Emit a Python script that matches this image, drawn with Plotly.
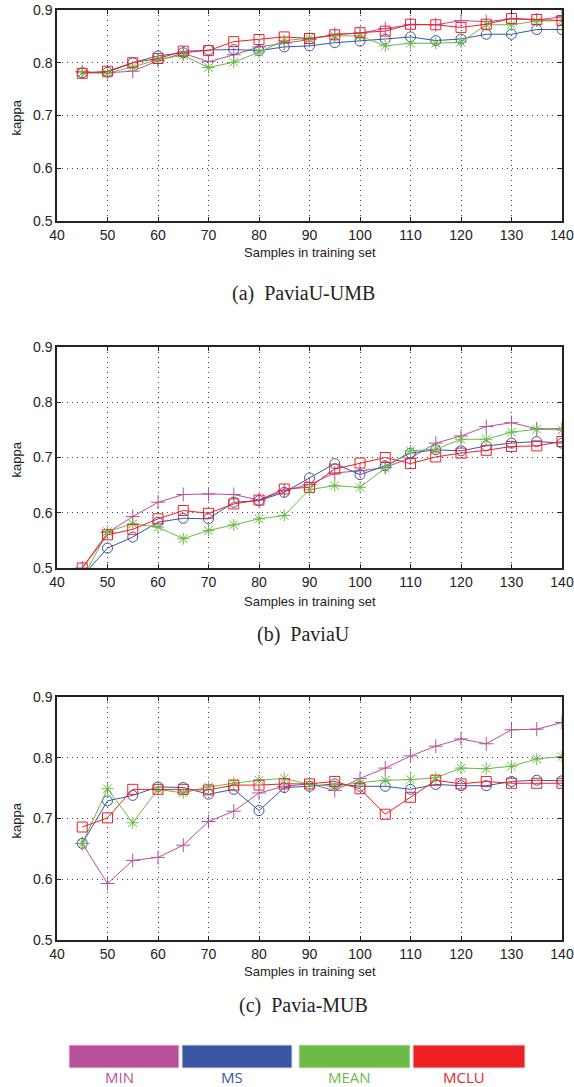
import plotly.graph_objects as go

samples = [45, 50, 55, 60, 65, 70, 75, 80, 85, 90, 95, 100, 105, 110, 115, 120, 125, 130, 135, 140]
methods = ["MIN", "MS", "MEAN", "MCLU"]
colors = {"MIN": "#b8509a", "MS": "#3a55a4", "MEAN": "#6bbb45", "MCLU": "#ef2024"}
symbols = {"MIN": "cross-thin-open", "MS": "circle-open", "MEAN": "asterisk-open", "MCLU": "square-open"}

# (a) PaviaU-UMB
a_min = [0.783, 0.781, 0.784, 0.804, 0.818, 0.802, 0.815, 0.830, 0.837, 0.844, 0.854, 0.856, 0.865, 0.872, 0.872, 0.880, 0.878, 0.883, 0.881, 0.887]
a_ms = [0.781, 0.782, 0.800, 0.813, 0.819, 0.824, 0.825, 0.823, 0.830, 0.832, 0.838, 0.841, 0.845, 0.849, 0.842, 0.845, 0.854, 0.854, 0.863, 0.863]
a_mean = [0.781, 0.780, 0.792, 0.806, 0.814, 0.791, 0.801, 0.820, 0.842, 0.847, 0.851, 0.851, 0.832, 0.837, 0.837, 0.839, 0.872, 0.872, 0.879, 0.880]
a_mclu = [0.780, 0.784, 0.800, 0.808, 0.822, 0.823, 0.840, 0.844, 0.849, 0.846, 0.853, 0.857, 0.860, 0.873, 0.872, 0.867, 0.873, 0.884, 0.882, 0.880]

# (b) PaviaU
b_min = [0.500, 0.564, 0.593, 0.619, 0.633, 0.634, 0.633, 0.623, 0.640, 0.651, 0.672, 0.676, 0.682, 0.699, 0.726, 0.739, 0.756, 0.763, 0.752, 0.752]
b_ms = [0.485, 0.536, 0.556, 0.583, 0.590, 0.589, 0.619, 0.622, 0.637, 0.663, 0.689, 0.669, 0.685, 0.708, 0.714, 0.712, 0.721, 0.726, 0.729, 0.726]
b_mean = [0.480, 0.566, 0.580, 0.574, 0.553, 0.568, 0.578, 0.589, 0.595, 0.642, 0.649, 0.646, 0.681, 0.712, 0.715, 0.733, 0.733, 0.746, 0.751, 0.750]
b_mclu = [0.500, 0.560, 0.570, 0.589, 0.604, 0.599, 0.616, 0.623, 0.643, 0.646, 0.679, 0.690, 0.700, 0.689, 0.701, 0.708, 0.713, 0.720, 0.721, 0.729]

# (c) Pavia-MUB
c_min = [0.659, 0.593, 0.631, 0.636, 0.656, 0.695, 0.712, 0.742, 0.753, 0.757, 0.746, 0.766, 0.783, 0.803, 0.819, 0.831, 0.823, 0.846, 0.847, 0.858]
c_ms = [0.659, 0.729, 0.738, 0.752, 0.751, 0.740, 0.748, 0.713, 0.751, 0.753, 0.757, 0.753, 0.753, 0.748, 0.756, 0.754, 0.754, 0.761, 0.763, 0.762]
c_mean = [0.659, 0.749, 0.693, 0.748, 0.742, 0.752, 0.758, 0.763, 0.766, 0.756, 0.753, 0.759, 0.763, 0.764, 0.767, 0.783, 0.782, 0.786, 0.798, 0.802]
c_mclu = [0.686, 0.701, 0.748, 0.748, 0.748, 0.747, 0.755, 0.755, 0.757, 0.757, 0.761, 0.749, 0.707, 0.735, 0.763, 0.757, 0.761, 0.758, 0.758, 0.758]

panels = [
    {"name": "(a)  PaviaU-UMB", "data": {"MIN": a_min, "MS": a_ms, "MEAN": a_mean, "MCLU": a_mclu}},
    {"name": "(b)  PaviaU", "data": {"MIN": b_min, "MS": b_ms, "MEAN": b_mean, "MCLU": b_mclu}},
    {"name": "(c)  Pavia-MUB", "data": {"MIN": c_min, "MS": c_ms, "MEAN": c_mean, "MCLU": c_mclu}},
]

x_ticks = [40, 50, 60, 70, 80, 90, 100, 110, 120, 130, 140]
y_ticks = [0.5, 0.6, 0.7, 0.8, 0.9]

W, H = 574, 1087
def px_x(x):
    return x / W
def px_y(y):
    return 1 - y / H

# plot areas in window pixels (top, bottom)
areas = [(10, 221), (347, 568), (697, 940)]
xtitle_px = [252, 601, 971]
caption_px = [293, 634, 1005]
x_dom = [px_x(57), px_x(562)]

fig = go.Figure()
annotations = []
for i, p in enumerate(panels):
    xa = "x" if i == 0 else f"x{i+1}"
    ya = "y" if i == 0 else f"y{i+1}"
    for m in methods:
        fig.add_trace(go.Scatter(
            x=samples, y=p["data"][m], mode="lines+markers", name=m,
            xaxis=xa, yaxis=ya, showlegend=False, cliponaxis=True,
            line=dict(color=colors[m], width=1),
            marker=dict(symbol=symbols[m], size=10, color=colors[m],
                        line=dict(color=colors[m], width=1)),
        ))
    top, bot = areas[i]
    axkey = "" if i == 0 else str(i + 1)
    common = dict(showline=True, linecolor="#222", linewidth=1.5, mirror="ticks",
                  ticks="inside", ticklen=4, tickcolor="#222", ticklabeloverflow="allow",
                  automargin=False,
                  showgrid=True, gridcolor="#444", griddash="1px,4px", gridwidth=1,
                  zeroline=False, tickfont=dict(family="Liberation Sans, Arial", size=14, color="#222"))
    fig.update_layout(**{
        f"xaxis{axkey}": dict(domain=x_dom, range=[40, 140], tickvals=x_ticks,
                              anchor=ya, **common),
        f"yaxis{axkey}": dict(domain=[px_y(bot), px_y(top)], range=[0.5, 0.9], tickvals=y_ticks,
                              ticktext=[f"{v:.1f}" for v in y_ticks], anchor=xa, **common),
    })
    annotations.append(dict(text="Samples in training set", xref="paper", yref="paper",
                            x=px_x((57 + 562) / 2), y=px_y(xtitle_px[i]), showarrow=False,
                            xanchor="center", yanchor="middle",
                            font=dict(family="Liberation Sans, Arial", size=13, color="#222")))
    annotations.append(dict(text="kappa", xref="paper", yref="paper",
                            x=px_x(16), y=px_y((top + bot) / 2 + 2), showarrow=False, textangle=-90,
                            xanchor="center", yanchor="middle",
                            font=dict(family="Liberation Sans, Arial", size=13, color="#222")))
    annotations.append(dict(text=p["name"], xref="paper", yref="paper",
                            x=px_x(303), y=px_y(caption_px[i]), showarrow=False,
                            xanchor="center", yanchor="middle",
                            font=dict(family="Liberation Serif, Times New Roman", size=20, color="#222")))

# legend bars at the bottom
bars = [(69, 179), (182, 292), (299, 410), (413, 525)]
shapes = []
for (x0, x1), m in zip(bars, methods):
    shapes.append(dict(type="rect", xref="paper", yref="paper",
                       x0=px_x(x0), x1=px_x(x1), y0=px_y(1068), y1=px_y(1045),
                       fillcolor=colors[m], line=dict(color="#dddddd", width=1)))
    annotations.append(dict(text=m, xref="paper", yref="paper",
                            x=px_x((x0 + x1) / 2 - 5), y=px_y(1077), showarrow=False,
                            xanchor="center", yanchor="middle",
                            font=dict(family="Open Sans, Liberation Sans", size=15, color=colors[m])))

fig.update_layout(width=W, height=H, margin=dict(l=0, r=0, t=0, b=0, autoexpand=False),
                  paper_bgcolor="white", plot_bgcolor="white",
                  annotations=annotations, shapes=shapes)
fig.write_html("out.html", config={"displayModeBar": False})

# remove default body margin so the figure fills the window exactly
with open("out.html", "r", encoding="utf-8") as f:
    html = f.read()
html = html.replace("<head>", "<head><style>html,body{margin:0;padding:0;}</style>", 1)
with open("out.html", "w", encoding="utf-8") as f:
    f.write(html)
